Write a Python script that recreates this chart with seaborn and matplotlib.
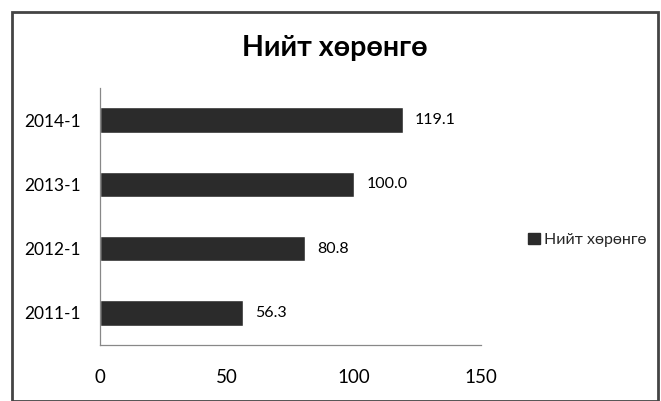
import matplotlib
matplotlib.use("Agg")
import matplotlib.pyplot as plt
import matplotlib.patches as mpatches
from matplotlib.ticker import FixedLocator
import seaborn as sns
import pandas as pd

categories = ["2014-1", "2013-1", "2012-1", "2011-1"]
values = [119.1, 100.0, 80.8, 56.3]
series_name = "Нийт хөрөнгө"
x_ticks = [0, 50, 100, 150]

sns.set_style("white")
plt.rcParams['font.family'] = ['Lato', 'DejaVu Sans']

df = pd.DataFrame({"cat": categories, "val": values})

fig = plt.figure(figsize=(6.61, 4.01), dpi=100)
ax = fig.add_axes([100/661, 1-345/401, 381/661, 257/401])
bar_color = "#2b2b2b"
sns.barplot(data=df, y="cat", x="val", order=categories, orient="h",
            color=bar_color, width=0.4, ax=ax, saturation=1)

ax.set_xlim(0, 150)
ax.set_ylim(3.5, -0.5)
ax.set_xticks(x_ticks)
ax.set_xlabel("")
ax.set_ylabel("")
for c in ax.containers:
    ax.bar_label(c, fmt="%.1f", padding=9, fontsize=11.5, color="#000")

for s in ["top", "right"]:
    ax.spines[s].set_visible(False)
for s in ["left", "bottom"]:
    ax.spines[s].set_color("#888")
    ax.spines[s].set_linewidth(0.9)
ax.tick_params(axis="x", length=4, color="#888", pad=13, labelsize=13.5, labelcolor="#000")
ax.tick_params(axis="y", which="major", length=0, pad=14, labelsize=12.5, labelcolor="#000")
ax.yaxis.set_minor_locator(FixedLocator([-0.5, 0.5, 1.5, 2.5]))
ax.tick_params(axis="y", which="minor", length=4, color="#888")

fig.text(0.507, 1-48/401, series_name, ha="center", va="center",
         fontsize=20.5, fontweight="bold", color="#000")

handle = mpatches.Patch(color=bar_color, label=series_name)
fig.legend(handles=[handle], loc="center left", bbox_to_anchor=(514/661, 1-240/401),
           frameon=False, fontsize=11.5, handlelength=0.7, handleheight=0.7,
           handletextpad=0.3)

border = mpatches.Rectangle((12/661, 0), 1 - 12/661 - 3/661, 1 - 12/401,
                            transform=fig.transFigure, fill=False,
                            edgecolor="#444", linewidth=2)
fig.patches.append(border)

fig.savefig("out.png", dpi=100)
